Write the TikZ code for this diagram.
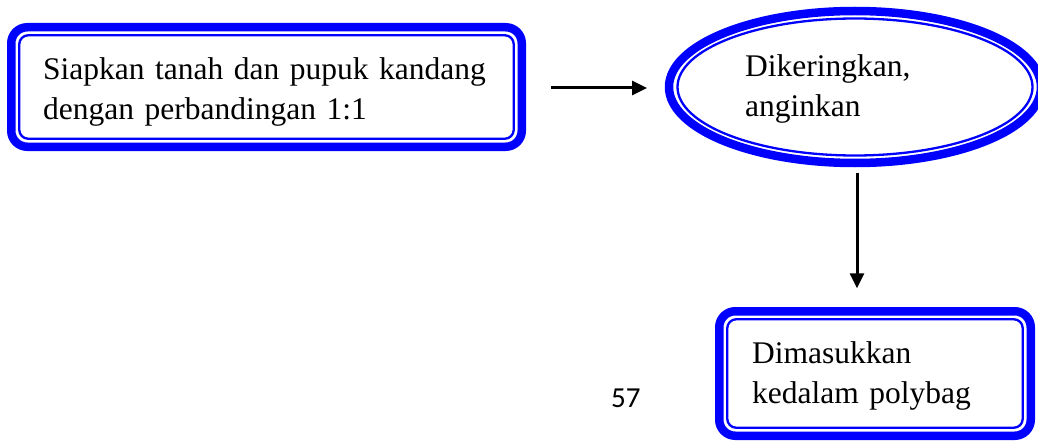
\documentclass[tikz,border=0pt]{standalone}
\usepackage{fontspec}
\setmainfont{Liberation Serif}
\newfontfamily\pagenumfont{Carlito}
\usetikzlibrary{arrows.meta,shapes.geometric}
\definecolor{frameblue}{RGB}{0,0,255}
\begin{document}
\begin{tikzpicture}[x=1pt,y=-1pt,
  outerframe/.style={draw=frameblue, line width=8.5pt, inner sep=0pt, outer sep=0pt},
  innerframe/.style={draw=frameblue, line width=2.3pt},
  steptext/.style={anchor=base west, inner sep=0pt, align=left,
    font=\fontsize{31.5}{40}\selectfont},
  flow/.style={line width=3pt, -{Triangle[length=15pt,width=14pt]}}
]
\useasboundingbox (0,0) rectangle (1038,441);

% step 1: rounded box with a thick-thin frame
\node[outerframe, rectangle, rounded corners=16pt,
      minimum width=510.5pt, minimum height=119.5pt] (b1) at (266.5,87) {};
\draw[innerframe, rounded corners=9pt]
  ([shift={(8,8)}]b1.north west) rectangle ([shift={(-8,-8)}]b1.south east);
\node[steptext, text width=470pt] (t1) at (43,80)
  {Siapkan tanah dan pupuk kandang\\dengan perbandingan 1:1};

% step 2: ellipse with a thick-thin frame
\node[outerframe, ellipse, minimum width=372pt, minimum height=152pt] (e1) at (855,87) {};
\draw[innerframe] (e1.center) ellipse [x radius=177.5pt, y radius=68.5pt];
\node[steptext, text width=260pt] (t2) at (745,77) {Dikeringkan,\\anginkan};

% step 3: rounded box with a thick-thin frame
\node[outerframe, rectangle, rounded corners=16pt,
      minimum width=311.5pt, minimum height=124.5pt] (b3) at (875,373.5) {};
\draw[innerframe, rounded corners=9pt]
  ([shift={(8,8)}]b3.north west) rectangle ([shift={(-8,-8)}]b3.south east);
\node[steptext, text width=260pt] (t3) at (752,363) {Dimasukkan\\kedalam polybag};

% connectors
\draw[flow] ([shift={(29,1)}]b1.east) -- ([shift={(-22,1)}]e1.west);
\draw[flow] ([shift={(2,10)}]e1.south) -- ([shift={(2,-23)}]e1.south |- b3.north);

% page number
\node[anchor=base west, inner sep=0pt, font=\pagenumfont\fontsize{29}{34}\selectfont] (pg) at (611,407) {57};
\end{tikzpicture}
\end{document}
